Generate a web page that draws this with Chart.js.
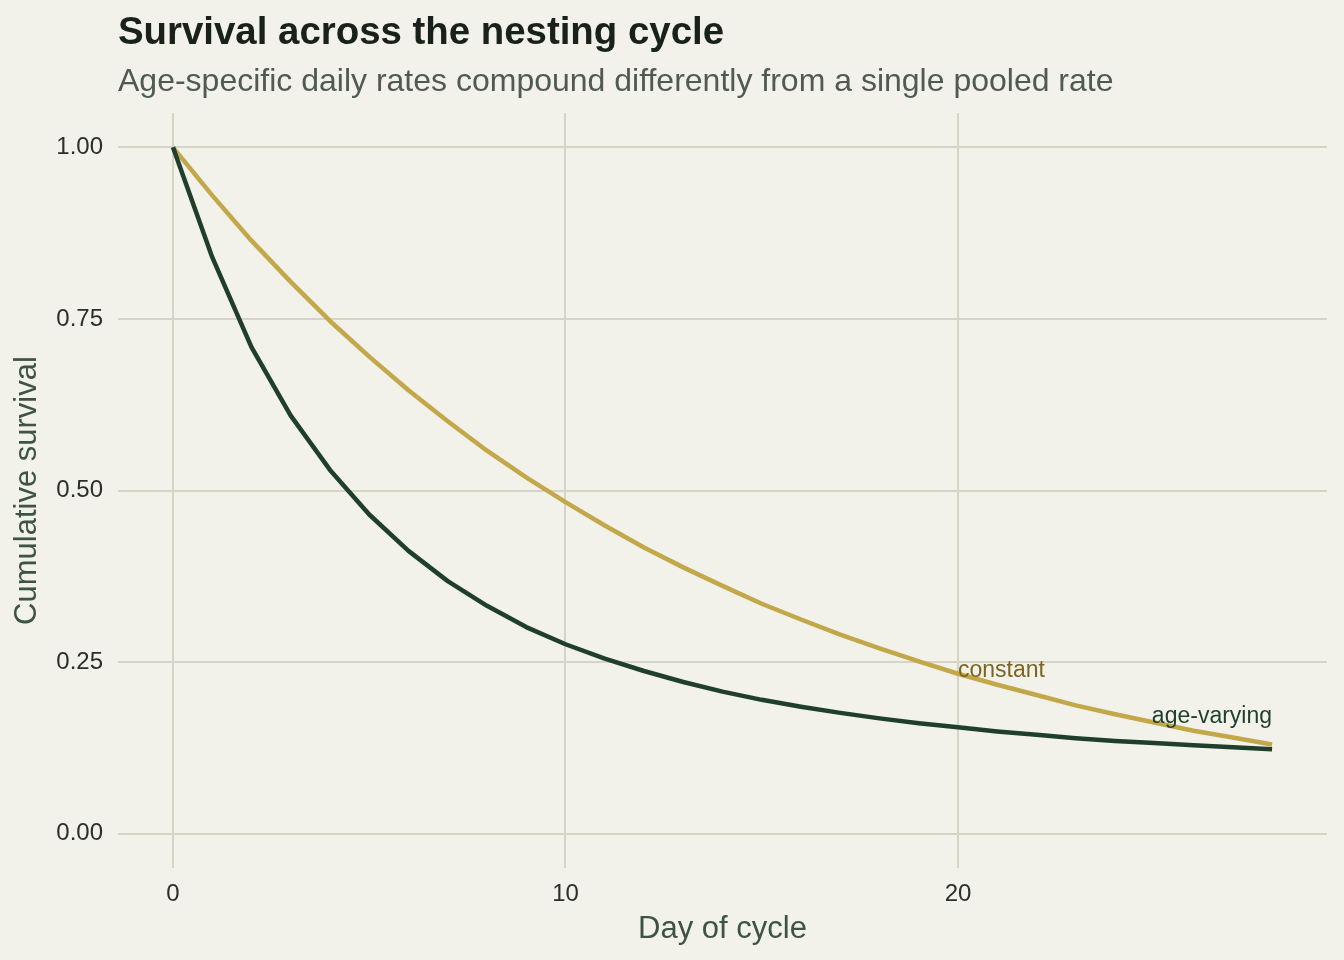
<!DOCTYPE html>
<html>
<head>
<meta charset="utf-8">
<script src="https://cdn.jsdelivr.net/npm/chart.js@4/dist/chart.umd.min.js"></script>
<style>
  html, body { margin: 0; padding: 0; background: #F2F1EA; }
  #wrap { width: 1344px; height: 960px; }
</style>
</head>
<body>
<div id="wrap"><canvas id="c" width="1344" height="960"></canvas></div>
<script>
// ---- data ----
const days = [0,1,2,3,4,5,6,7,8,9,10,11,12,13,14,15,16,17,18,19,20,21,22,23,24,25,26,27,28];
const constantSurvival = [1.000,0.930,0.864,0.804,0.747,0.695,0.646,0.601,0.558,0.519,0.483,0.449,0.417,0.388,0.361,0.335,0.312,0.290,0.270,0.251,0.233,0.217,0.202,0.187,0.174,0.162,0.150,0.140,0.130];
const ageVaryingSurvival = [1.000,0.840,0.709,0.609,0.530,0.465,0.412,0.368,0.332,0.301,0.276,0.255,0.237,0.221,0.207,0.195,0.185,0.176,0.168,0.161,0.155,0.149,0.144,0.139,0.135,0.132,0.129,0.126,0.123];
const xTicks = [0, 10, 20];
const yTicks = [0, 0.25, 0.5, 0.75, 1.0];
const seriesNames = ['age-varying', 'constant'];
const labelText = ['constant', 'age-varying'];
const labelDay = [20, 28];
const labelValue = [0.238, 0.170];

const TITLE = 'Survival across the nesting cycle';
const SUBTITLE = 'Age-specific daily rates compound differently from a single pooled rate';
const FONT = '"Liberation Sans", Arial, Helvetica, sans-serif';

const C_BG = '#F2F1EA', C_GRID = '#D6D5C5', C_GOLD = '#C2A849', C_GREEN = '#1F3F2C';

const bgPlugin = {
  id: 'bg',
  beforeDraw(chart) {
    const ctx = chart.ctx;
    ctx.save();
    ctx.fillStyle = C_BG;
    ctx.fillRect(0, 0, chart.width, chart.height);
    ctx.restore();
  }
};

const textPlugin = {
  id: 'texts',
  afterDraw(chart) {
    const ctx = chart.ctx;
    const left = chart.chartArea.left;
    ctx.save();
    ctx.textAlign = 'left';
    ctx.textBaseline = 'alphabetic';
    ctx.fillStyle = '#18211A';
    ctx.font = 'bold 38.4px ' + FONT;
    ctx.fillText(TITLE, left, 44);
    ctx.fillStyle = '#4F5B51';
    ctx.font = '32px ' + FONT;
    ctx.fillText(SUBTITLE, left, 91);
    ctx.restore();
  },
  afterDatasetsDraw(chart) {
    const ctx = chart.ctx;
    const xs = chart.scales.x, ys = chart.scales.y;
    ctx.save();
    ctx.font = '23px ' + FONT;
    ctx.textBaseline = 'middle';
    labelText.forEach((t, i) => {
      ctx.fillStyle = i === 0 ? '#7A6521' : C_GREEN;
      ctx.textAlign = i === 0 ? 'left' : 'right';
      ctx.fillText(t, xs.getPixelForValue(labelDay[i]), ys.getPixelForValue(labelValue[i]));
    });
    ctx.restore();
  }
};

new Chart(document.getElementById('c'), {
  type: 'line',
  data: {
    labels: days,
    datasets: [
      {
        label: seriesNames[0],
        data: days.map((d, i) => ({x: d, y: ageVaryingSurvival[i]})),
        borderColor: C_GREEN, borderWidth: 4.5, pointRadius: 0, tension: 0, fill: false,
        borderCapStyle: 'butt', borderJoinStyle: 'round'
      },
      {
        label: seriesNames[1],
        data: days.map((d, i) => ({x: d, y: constantSurvival[i]})),
        borderColor: C_GOLD, borderWidth: 4.5, pointRadius: 0, tension: 0, fill: false,
        borderCapStyle: 'butt', borderJoinStyle: 'round'
      }
    ]
  },
  options: {
    responsive: false,
    animation: false,
    devicePixelRatio: 1,
    layout: { padding: { top: 113, right: 17, bottom: 0, left: 0 } },
    plugins: {
      legend: { display: false },
      tooltip: { enabled: false },
      title: { display: false }
    },
    scales: {
      x: {
        type: 'linear',
        min: -1.4, max: 29.4,
        afterBuildTicks: s => { s.ticks = xTicks.map(v => ({ value: v })); },
        afterFit: s => { s.height = 92; },
        grid: { color: C_GRID, lineWidth: 2, drawTicks: false },
        border: { display: false },
        ticks: {
          padding: 12,
          color: '#2A2F2B',
          font: { family: FONT, size: 24 },
          callback: v => String(v)
        },
        title: {
          display: true, text: 'Day of cycle', color: '#3D5442',
          font: { family: FONT, size: 31 },
          padding: { top: 0, bottom: 12 }
        }
      },
      y: {
        type: 'linear',
        min: -0.05, max: 1.05,
        afterBuildTicks: s => { s.ticks = yTicks.map(v => ({ value: v })); },
        afterFit: s => { s.width = 118; },
        grid: { color: C_GRID, lineWidth: 2, drawTicks: false },
        border: { display: false },
        ticks: {
          padding: 15,
          color: '#2A2F2B',
          font: { family: FONT, size: 24 },
          callback: v => Number(v).toFixed(2)
        },
        title: {
          display: true, text: 'Cumulative survival', color: '#3D5442',
          font: { family: FONT, size: 31 },
          padding: { top: 9, bottom: 0 }
        }
      }
    }
  },
  plugins: [bgPlugin, textPlugin]
});
</script>
</body>
</html>
